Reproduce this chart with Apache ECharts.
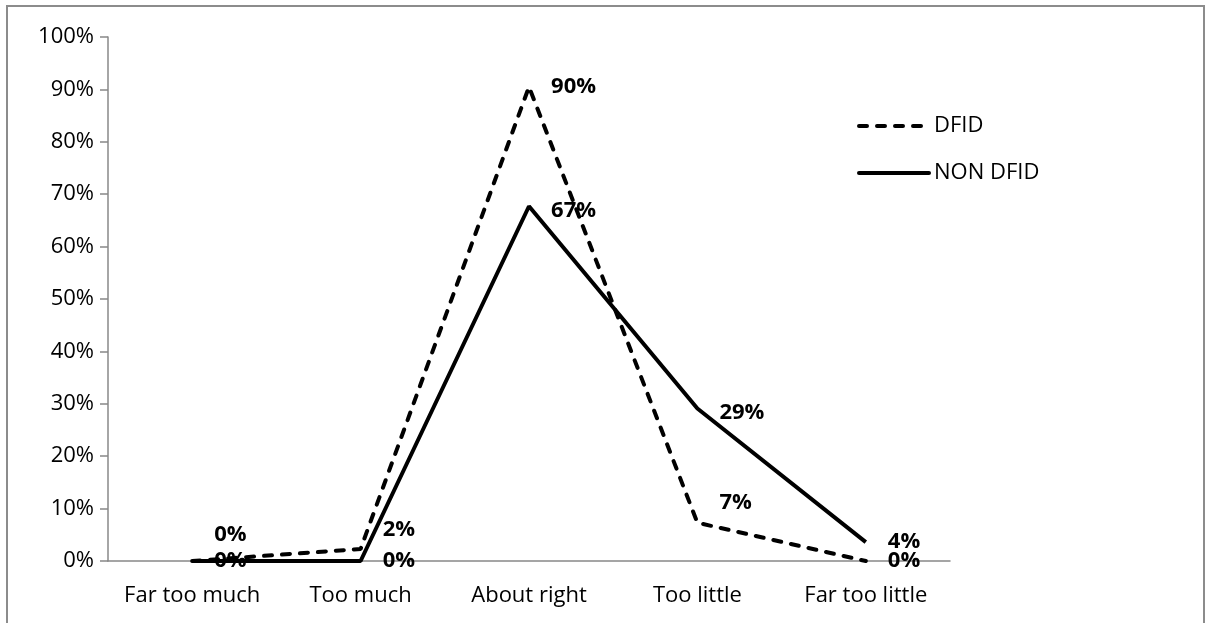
<!DOCTYPE html>
<html><head><meta charset="utf-8">
<script src="https://cdn.jsdelivr.net/npm/echarts@6/dist/echarts.min.js"></script>
<style>html,body{margin:0;padding:0;background:#fff}#c{width:1205px;height:623px}</style>
</head><body><div id="c"></div>
<script>
const categories = ['Far too much', 'Too much', 'About right', 'Too little', 'Far too little'];
const dfid = [0, 2.3, 90.5, 7.3, 0];
const nonDfid = [0, 0, 67.7, 29.1, 3.6];
const dfidLabels = ['0%', '2%', '90%', '7%', '0%'];
const nonDfidLabels = ['0%', '0%', '67%', '29%', '4%'];

const FONT = 'Open Sans';
const FS = 22;
// per-point label vertical shifts (px)
const dfidShift = [-26, -19, 0, -20, 0];
const nonShift = [0, 0, 4, 4, 0];

function mk(vals, labels, shifts){
  return vals.map((v,i)=>({value:v, label:{offset:[0,shifts[i]], formatter: labels[i]}}));
}
const legendText = {fontFamily:FONT, fontSize:FS, color:'#000'};
const legendLine = {width:4, cap:'round'};

const chart = echarts.init(document.getElementById('c'));
chart.setOption({
  animation:false,
  textStyle:{fontFamily:FONT},
  graphic:[{type:'rect', shape:{x:7,y:6,width:1197,height:640}, style:{fill:'none', stroke:'#8c8c8c', lineWidth:2}}],
  grid:{left:108, right:255, top:37, bottom:62},
  legend:[
    {orient:'vertical', left:852, top:110, itemWidth:70, itemHeight:4, itemGap:0, textStyle:legendText, lineStyle:legendLine, data:['DFID']},
    {orient:'vertical', left:852, top:157, itemWidth:70, itemHeight:4, itemGap:0, textStyle:legendText, lineStyle:legendLine, data:['NON DFID']}
  ],
  xAxis:{type:'category', data:categories, boundaryGap:true,
    axisLine:{lineStyle:{color:'#888', width:1.5}},
    axisTick:{length:8, lineStyle:{color:'#888', width:1.5}},
    axisLabel:{fontFamily:FONT, fontSize:FS, color:'#000', margin:24, interval:0}},
  yAxis:{type:'value', min:0, max:100, interval:10,
    axisLine:{show:true, lineStyle:{color:'#888', width:1.5}},
    axisTick:{show:true, inside:false, length:8, lineStyle:{color:'#888', width:1.5}},
    splitLine:{show:false},
    axisLabel:{fontFamily:FONT, fontSize:FS, color:'#000', margin:14, formatter:v=>v+'%'}},
  series:[
    {name:'DFID', type:'line', data:mk(dfid, dfidLabels, dfidShift), symbol:'circle', symbolSize:0.1, showSymbol:true,
     itemStyle:{color:'rgba(0,0,0,0)'},
     lineStyle:{color:'#000', width:4, type:[8,10], cap:'round'},
     label:{show:true, position:'right', distance:22, fontFamily:FONT, fontSize:FS, fontWeight:'bold', color:'#000'}},
    {name:'NON DFID', type:'line', data:mk(nonDfid, nonDfidLabels, nonShift), symbol:'circle', symbolSize:0.1, showSymbol:true,
     itemStyle:{color:'rgba(0,0,0,0)'},
     lineStyle:{color:'#000', width:4},
     label:{show:true, position:'right', distance:22, fontFamily:FONT, fontSize:FS, fontWeight:'bold', color:'#000'}}
  ]
});
</script></body></html>
